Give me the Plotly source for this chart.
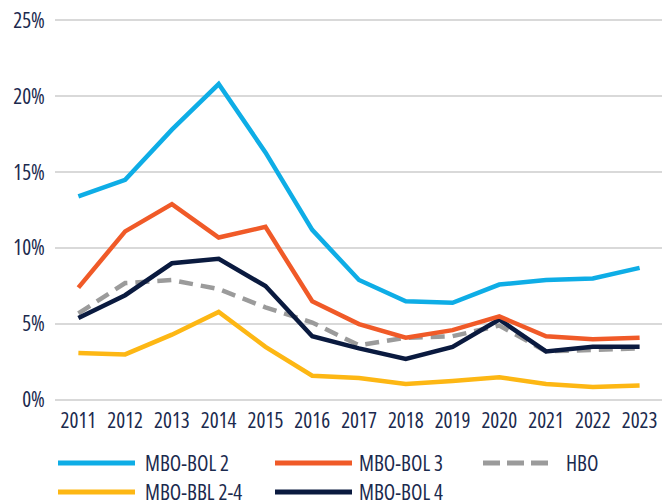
import plotly.graph_objects as go

years = ["2011", "2012", "2013", "2014", "2015", "2016", "2017", "2018", "2019", "2020", "2021", "2022", "2023"]
mbo_bol2 = [13.4, 14.5, 17.8, 20.8, 16.3, 11.2, 7.9, 6.5, 6.4, 7.6, 7.9, 8.0, 8.7]
mbo_bol3 = [7.4, 11.1, 12.9, 10.7, 11.4, 6.5, 5.0, 4.1, 4.6, 5.5, 4.2, 4.0, 4.1]
hbo = [5.7, 7.7, 7.9, 7.3, 6.1, 5.1, 3.6, 4.1, 4.2, 4.9, 3.2, 3.3, 3.4]
mbo_bbl24 = [3.1, 3.0, 4.3, 5.8, 3.5, 1.6, 1.45, 1.05, 1.25, 1.5, 1.05, 0.85, 0.95]
mbo_bol4 = [5.4, 6.9, 9.0, 9.3, 7.5, 4.2, 3.4, 2.7, 3.5, 5.3, 3.2, 3.5, 3.5]
ytick_vals = [0, 5, 10, 15, 20, 25]
ytick_text = ["0%", "5%", "10%", "15%", "20%", "25%"]

series = [
    ("MBO-BOL 2", mbo_bol2, "#0EADE6", "solid"),
    ("MBO-BOL 3", mbo_bol3, "#F05A28", "solid"),
    ("HBO", hbo, "#9B9B9B", "dash"),
    ("MBO-BBL 2-4", mbo_bbl24, "#FDB714", "solid"),
    ("MBO-BOL 4", mbo_bol4, "#0A1A3F", "solid"),
]
draw_order = ["MBO-BBL 2-4", "HBO", "MBO-BOL 4", "MBO-BOL 3", "MBO-BOL 2"]
lookup = {s[0]: s for s in series}

FONT = "Open Sans, Roboto, sans-serif"
TXT = "#1B2A4E"
FS = 21


def cond(t):
    return f"<span style='font-stretch:condensed'>{t}</span>"


fig = go.Figure()
for name in draw_order:
    n, vals, col, dash = lookup[name]
    fig.add_trace(go.Scatter(
        x=years, y=vals, mode="lines", name=n,
        line=dict(color=col, width=4.5, dash="14px,8px" if dash == "dash" else "solid"),
        showlegend=False,
    ))

# page body has an 8px margin; figure coordinates are screen coordinates minus OFF
OFF = 8
FW, FH = 670 - OFF, 501 - OFF
W, H, L, T = 615, 382, 55 - OFF, 10


def px(x):
    return (x - OFF - L) / W


def py(y):
    return (T + H - (y - OFF)) / H


legend_items = [
    ("MBO-BOL 2", 58, 135, 143, 463),
    ("MBO-BOL 3", 275, 352, 357, 463),
    ("HBO", 483, 553, 564, 463),
    ("MBO-BBL 2-4", 58, 135, 143, 492),
    ("MBO-BOL 4", 275, 352, 357, 492),
]
shapes = []
annotations = []
for name, x0, x1, xt, yy in legend_items:
    _, _, col, dash = lookup[name]
    shapes.append(dict(
        type="line", xref="paper", yref="paper",
        x0=px(x0), x1=px(x1), y0=py(yy), y1=py(yy),
        line=dict(color=col, width=5, dash="17px,7px" if dash == "dash" else "solid"),
    ))
    annotations.append(dict(
        xref="paper", yref="paper", x=px(xt), y=py(yy),
        text=cond(name), showarrow=False, xanchor="left", yanchor="middle",
        font=dict(family=FONT, size=FS, color=TXT),
    ))

fig.update_layout(
    width=FW, height=FH,
    margin=dict(l=L, r=FW - L - W, t=T, b=FH - T - H, autoexpand=False),
    paper_bgcolor="white", plot_bgcolor="white",
    font=dict(family=FONT, size=FS, color=TXT),
    shapes=shapes, annotations=annotations,
    xaxis=dict(
        type="category", range=[-0.5, 12.65], showgrid=False, zeroline=False,
        showline=False, ticks="outside", ticklen=2, tickcolor="rgba(0,0,0,0)",
        tickvals=years, ticktext=[cond(y) for y in years], tickangle=0,
        automargin=False,
        tickfont=dict(family=FONT, size=FS, color=TXT),
    ),
    yaxis=dict(
        range=[0, 25.15], tickvals=ytick_vals, ticktext=[cond(t) for t in ytick_text],
        showgrid=True, gridcolor="#D9D9D9", gridwidth=1.5,
        zeroline=True, zerolinecolor="#D9D9D9", zerolinewidth=1.5,
        showline=False, ticks="outside", ticklen=5, tickcolor="rgba(0,0,0,0)",
        automargin=False, ticklabeloverflow="allow",
        tickfont=dict(family=FONT, size=FS, color=TXT),
    ),
)

fig.write_html("out.html")
